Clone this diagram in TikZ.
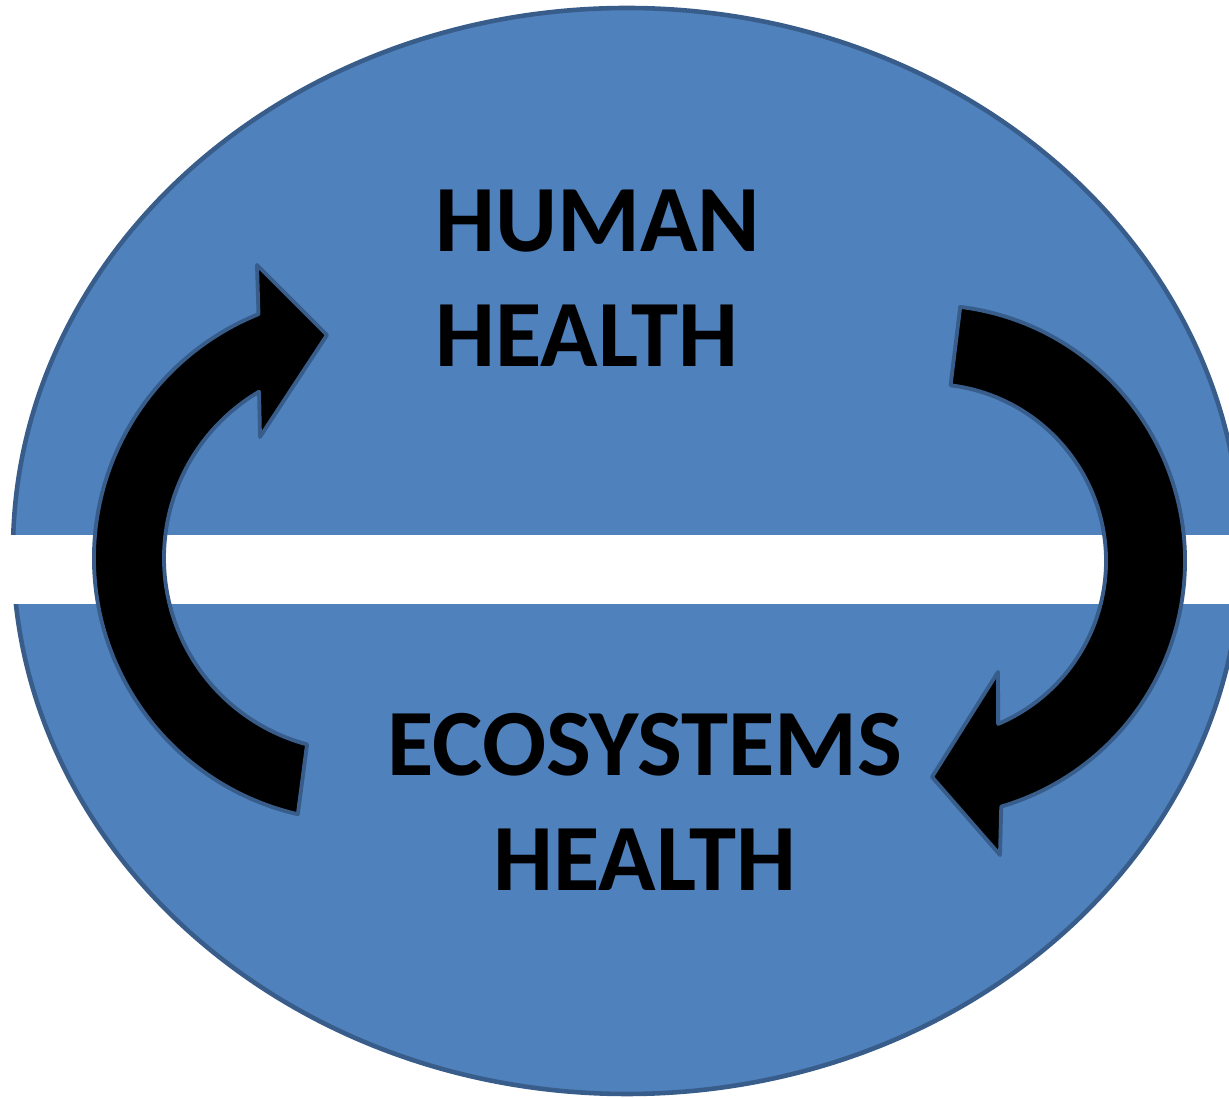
\documentclass[tikz,border=0pt]{standalone}
\usepackage{fontspec}
\setmainfont{Carlito}
\definecolor{fillblue}{HTML}{4F81BD}
\definecolor{edgeblue}{HTML}{385D8A}
\begin{document}
\begin{tikzpicture}[
  globe/.style={draw=edgeblue, fill=fillblue, line width=1.3pt},
  bendarrow/.style={draw=edgeblue, fill=black, line width=1.1pt, line join=round},
  healthtext/.style={font=\fontsize{27}{32.7}\selectfont\bfseries, inner sep=0pt, text=black}
]
  \useasboundingbox (0,0) rectangle (12.29,-10.98);

  % Big ellipse with the white gap across it
  \coordinate (mid) at (6.27,-5.51);
  \draw[globe] (mid) ellipse [x radius=6.14, y radius=5.43];
  \fill[white] (0,-5.35) rectangle (12.29,-6.04);

  % Left arrow, up to human health
  \coordinate (lc) at (3.57,-5.58);
  \draw[bendarrow] ([shift={(lc)}]257:2.63) arc[start angle=257, end angle=112, radius=2.63]
    -- (2.57,-2.65) -- (3.27,-3.35) -- (2.60,-4.37)
    -- ([shift={(lc)}]120.5:1.93) arc[start angle=120.5, end angle=255, radius=1.93] -- cycle;

  % Right arrow, down to ecosystems health
  \coordinate (rc) at (9.29,-5.61);
  \draw[bendarrow] ([shift={(rc)}]83:2.56) arc[start angle=83, end angle=-73.6, radius=2.56]
    -- (10.00,-8.55) -- (9.32,-7.77) -- (9.98,-6.72)
    -- ([shift={(rc)}]-67:1.77) arc[start angle=-67, end angle=83, radius=1.77] -- cycle;

  % Labels
  \node[healthtext, anchor=west, align=left] (human) at (4.35,-2.785) {HUMAN\\HEALTH};
  \node[healthtext, align=center] (eco) at (6.45,-8.015) {ECOSYSTEMS\\HEALTH};
\end{tikzpicture}
\end{document}
